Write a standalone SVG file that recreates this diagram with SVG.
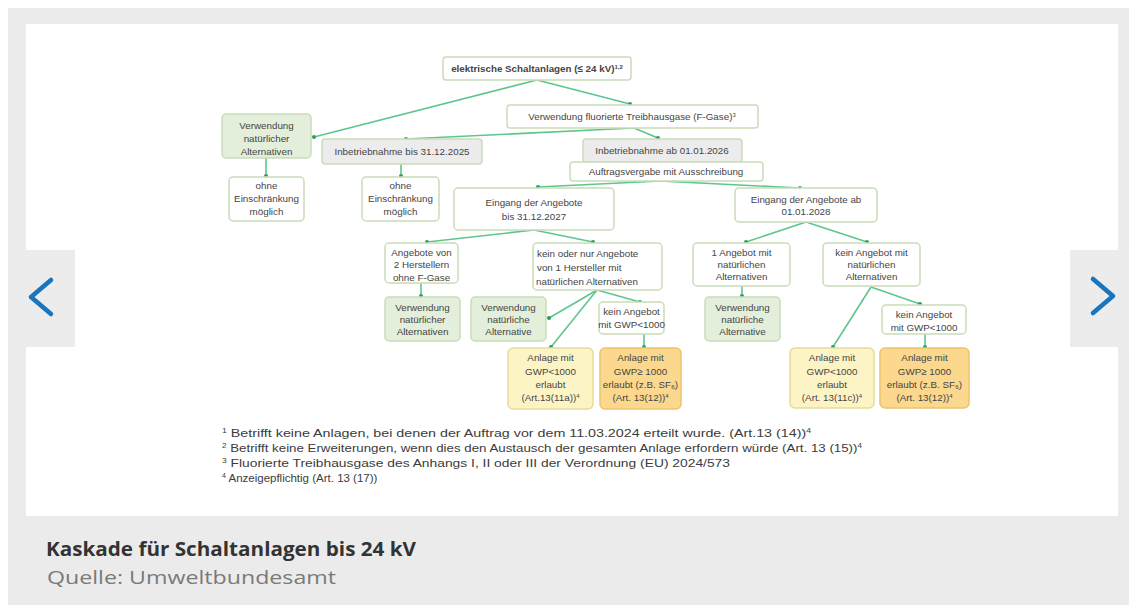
<svg xmlns="http://www.w3.org/2000/svg" width="1129" height="605" viewBox="0 0 1129 605">
<defs>
<style>
.box{stroke:#c9ddb9;stroke-width:1.5}
.w{fill:#ffffff}
.g{fill:#e3efda}
.gr{fill:#ececec}
.y{fill:#fdf4c6;stroke:#e6dc9c}
.o{fill:#fbd88e;stroke:#ecc46c}
.t{font-family:"Liberation Sans",Arial,sans-serif;font-size:9.8px;fill:#454545;text-anchor:middle}
.tl{text-anchor:start}
.b{font-weight:bold}
.sup{font-size:6px}
.c{fill:none;stroke:#5fc58f;stroke-width:1.6}
.fn{font-family:"Liberation Sans",Arial,sans-serif;font-size:11.5px;fill:#3c3c3c}
.fs{font-size:7px}
</style>
<marker id="dot" viewBox="0 0 6 6" refX="3" refY="3" markerWidth="4" markerHeight="4" markerUnits="userSpaceOnUse">
<circle cx="3" cy="3" r="3" fill="#2e9d5c"/>
</marker>
</defs>
<rect width="1129" height="605" fill="#ffffff"/>
<rect x="8" y="8" width="1121" height="597" fill="#ebebeb"/>
<rect x="26" y="24" width="1092" height="492" fill="#ffffff"/>

<g id="connectors">
<path class="c" d="M537 80 L314 137" marker-end="url(#dot)"/>
<path class="c" d="M537 80 L630 104" marker-end="url(#dot)"/>
<path class="c" d="M634 128 L406 139" marker-end="url(#dot)"/>
<path class="c" d="M634 128 L658 138" marker-end="url(#dot)"/>
<path class="c" d="M266 158 L266 176" marker-end="url(#dot)"/>
<path class="c" d="M401 164 L401 176" marker-end="url(#dot)"/>
<path class="c" d="M660 181 L538 187" marker-end="url(#dot)"/>
<path class="c" d="M660 181 L800 188" marker-end="url(#dot)"/>
<path class="c" d="M534 230 L427 242" marker-end="url(#dot)"/>
<path class="c" d="M534 230 L593 242" marker-end="url(#dot)"/>
<path class="c" d="M806 222 L746 242" marker-end="url(#dot)"/>
<path class="c" d="M806 222 L867 242" marker-end="url(#dot)"/>
<path class="c" d="M421 283 L421 296" marker-end="url(#dot)"/>
<path class="c" d="M597 290 L549 318" marker-end="url(#dot)"/>
<path class="c" d="M597 290 L551 347" marker-end="url(#dot)"/>
<path class="c" d="M597 290 L640 302" marker-end="url(#dot)"/>
<path class="c" d="M644 334 L644 347" marker-end="url(#dot)"/>
<path class="c" d="M742 286 L742 296" marker-end="url(#dot)"/>
<path class="c" d="M871 287 L833 347" marker-end="url(#dot)"/>
<path class="c" d="M871 287 L920 304" marker-end="url(#dot)"/>
<path class="c" d="M925 334 L925 347" marker-end="url(#dot)"/>
</g>

<g id="n1"><rect class="box w" x="443" y="57" width="188" height="23" rx="3"/>
<text class="t b" x="537" y="72">elektrische Schaltanlagen (≤ 24 kV)<tspan class="sup" dy="-3.5">1,2</tspan></text></g>
<g id="n2"><rect class="box w" x="507" y="105" width="251" height="23" rx="3"/>
<text class="t" x="632" y="120">Verwendung fluorierte Treibhausgase (F-Gase)<tspan class="sup" dy="-3.5">3</tspan></text></g>
<g id="n3"><rect class="box g" x="222" y="114" width="89" height="44" rx="4"/>
<text class="t" x="266.5" y="129">Verwendung</text><text class="t" x="266.5" y="142">natürlicher</text><text class="t" x="266.5" y="155">Alternativen</text></g>
<g id="n4"><rect class="box gr" x="322" y="139" width="160" height="25" rx="3"/>
<text class="t" x="402" y="155">Inbetriebnahme bis 31.12.2025</text></g>
<g id="n5"><rect class="box gr" x="583" y="139" width="159" height="23" rx="3"/>
<text class="t" x="662" y="154">Inbetriebnahme ab 01.01.2026</text></g>
<g id="n6"><rect class="box w" x="570" y="162" width="193" height="19" rx="3"/>
<text class="t" x="666" y="175">Auftragsvergabe mit Ausschreibung</text></g>
<g id="n7"><rect class="box w" x="229" y="177" width="75" height="44" rx="4"/>
<text class="t" x="266.5" y="189">ohne</text><text class="t" x="266.5" y="202">Einschränkung</text><text class="t" x="266.5" y="215">möglich</text></g>
<g id="n8"><rect class="box w" x="362" y="177" width="77" height="44" rx="4"/>
<text class="t" x="400.5" y="189">ohne</text><text class="t" x="400.5" y="202">Einschränkung</text><text class="t" x="400.5" y="215">möglich</text></g>
<g id="n9"><rect class="box w" x="454" y="188" width="160" height="42" rx="4"/>
<text class="t" x="534" y="206">Eingang der Angebote</text><text class="t" x="534" y="220">bis 31.12.2027</text></g>
<g id="n10"><rect class="box w" x="735" y="188" width="142" height="34" rx="4"/>
<text class="t" x="806" y="203">Eingang der Angebote ab</text><text class="t" x="806" y="215">01.01.2028</text></g>
<g id="n11"><rect class="box w" x="385" y="243" width="73" height="40" rx="4"/>
<text class="t" x="421.5" y="256">Angebote von</text><text class="t" x="421.5" y="268">2 Herstellern</text><text class="t" x="421.5" y="281">ohne F-Gase</text></g>
<g id="n12"><rect class="box w" x="533" y="243" width="129" height="47" rx="4"/>
<text class="t tl" x="537" y="257">kein oder nur Angebote</text><text class="t tl" x="537" y="271">von 1 Hersteller mit</text><text class="t tl" x="536" y="285">natürlichen Alternativen</text></g>
<g id="n13"><rect class="box g" x="385" y="297" width="75" height="44" rx="4"/>
<text class="t" x="422.5" y="311">Verwendung</text><text class="t" x="422.5" y="323">natürlicher</text><text class="t" x="422.5" y="335">Alternativen</text></g>
<g id="n14"><rect class="box g" x="471" y="297" width="75" height="44" rx="4"/>
<text class="t" x="508.5" y="311">Verwendung</text><text class="t" x="508.5" y="323">natürliche</text><text class="t" x="508.5" y="335">Alternative</text></g>
<g id="n15"><rect class="box w" x="599" y="302" width="65" height="32" rx="4"/>
<text class="t" x="631.5" y="315">kein Angebot</text><text class="t" x="631.5" y="328">mit GWP&lt;1000</text></g>
<g id="n16"><rect class="box y" x="508" y="348" width="85" height="61" rx="5"/>
<text class="t" x="550.5" y="361">Anlage mit</text><text class="t" x="550.5" y="375">GWP&lt;1000</text><text class="t" x="550.5" y="388">erlaubt</text><text class="t" x="550.5" y="401">(Art.13(11a))<tspan class="sup" dy="-3.5">4</tspan></text></g>
<g id="n17"><rect class="box o" x="600" y="348" width="81" height="61" rx="5"/>
<text class="t" x="640.5" y="361">Anlage mit</text><text class="t" x="640.5" y="375">GWP≥ 1000</text><text class="t" x="640.5" y="388">erlaubt (z.B. SF₆)</text><text class="t" x="640.5" y="401">(Art. 13(12))<tspan class="sup" dy="-3.5">4</tspan></text></g>
<g id="n18"><rect class="box w" x="693" y="243" width="97" height="43" rx="4"/>
<text class="t" x="741.5" y="256">1 Angebot mit</text><text class="t" x="741.5" y="268">natürlichen</text><text class="t" x="741.5" y="280">Alternativen</text></g>
<g id="n19"><rect class="box w" x="823" y="243" width="97" height="43" rx="4"/>
<text class="t" x="871.5" y="256">kein Angebot mit</text><text class="t" x="871.5" y="268">natürlichen</text><text class="t" x="871.5" y="280">Alternativen</text></g>
<g id="n20"><rect class="box g" x="705" y="297" width="75" height="44" rx="4"/>
<text class="t" x="742.5" y="311">Verwendung</text><text class="t" x="742.5" y="323">natürliche</text><text class="t" x="742.5" y="335">Alternative</text></g>
<g id="n21"><rect class="box w" x="882" y="305" width="84" height="29" rx="4"/>
<text class="t" x="924" y="318">kein Angebot</text><text class="t" x="924" y="331">mit GWP&lt;1000</text></g>
<g id="n22"><rect class="box y" x="790" y="348" width="84" height="60" rx="5"/>
<text class="t" x="832" y="361">Anlage mit</text><text class="t" x="832" y="375">GWP&lt;1000</text><text class="t" x="832" y="388">erlaubt</text><text class="t" x="832" y="401">(Art. 13(11c))<tspan class="sup" dy="-3.5">4</tspan></text></g>
<g id="n23"><rect class="box o" x="880" y="348" width="89" height="60" rx="5"/>
<text class="t" x="924.5" y="361">Anlage mit</text><text class="t" x="924.5" y="375">GWP≥ 1000</text><text class="t" x="924.5" y="388">erlaubt (z.B. SF₆)</text><text class="t" x="924.5" y="401">(Art. 13(12))<tspan class="sup" dy="-3.5">4</tspan></text></g>

<g id="footnotes">
<text class="fn" x="222" y="437" textLength="589" lengthAdjust="spacingAndGlyphs"><tspan class="fs" dy="-4">1</tspan><tspan dy="4"> Betrifft keine Anlagen, bei denen der Auftrag vor dem 11.03.2024 erteilt wurde. (Art.13 (14))</tspan><tspan class="fs" dy="-4">4</tspan></text>
<text class="fn" x="222" y="452" textLength="640" lengthAdjust="spacingAndGlyphs"><tspan class="fs" dy="-4">2</tspan><tspan dy="4"> Betrifft keine Erweiterungen, wenn dies den Austausch der gesamten Anlage erfordern würde (Art. 13 (15))</tspan><tspan class="fs" dy="-4">4</tspan></text>
<text class="fn" x="222" y="467" textLength="508" lengthAdjust="spacingAndGlyphs"><tspan class="fs" dy="-4">3</tspan><tspan dy="4"> Fluorierte Treibhausgase des Anhangs I, II oder III der Verordnung (EU) 2024/573</tspan></text>
<text class="fn" x="222" y="482"><tspan class="fs" dy="-4">4</tspan><tspan dy="4"> Anzeigepflichtig (Art. 13 (17))</tspan></text>
</g>

<g id="nav-prev"><rect x="8" y="250" width="67" height="97" fill="#ececec"/>
<path d="M51 280 L31 297 L51 314" fill="none" stroke="#1b75bc" stroke-width="4.5" stroke-linecap="round" stroke-linejoin="round"/></g>
<g id="nav-next"><rect x="1070" y="250" width="59" height="97" fill="#ececec"/>
<path d="M1093 279 L1113 296 L1093 313" fill="none" stroke="#1b75bc" stroke-width="4.5" stroke-linecap="round" stroke-linejoin="round"/></g>

<g id="caption">
<text x="46" y="556" font-family="'Open Sans',sans-serif" font-weight="bold" font-size="20" fill="#333333" textLength="370" lengthAdjust="spacingAndGlyphs">Kaskade für Schaltanlagen bis 24 kV</text>
<text x="47" y="584" font-family="'Open Sans',sans-serif" font-size="18" fill="#7a7a7a" textLength="289" lengthAdjust="spacingAndGlyphs">Quelle: Umweltbundesamt</text>
</g>
</svg>
